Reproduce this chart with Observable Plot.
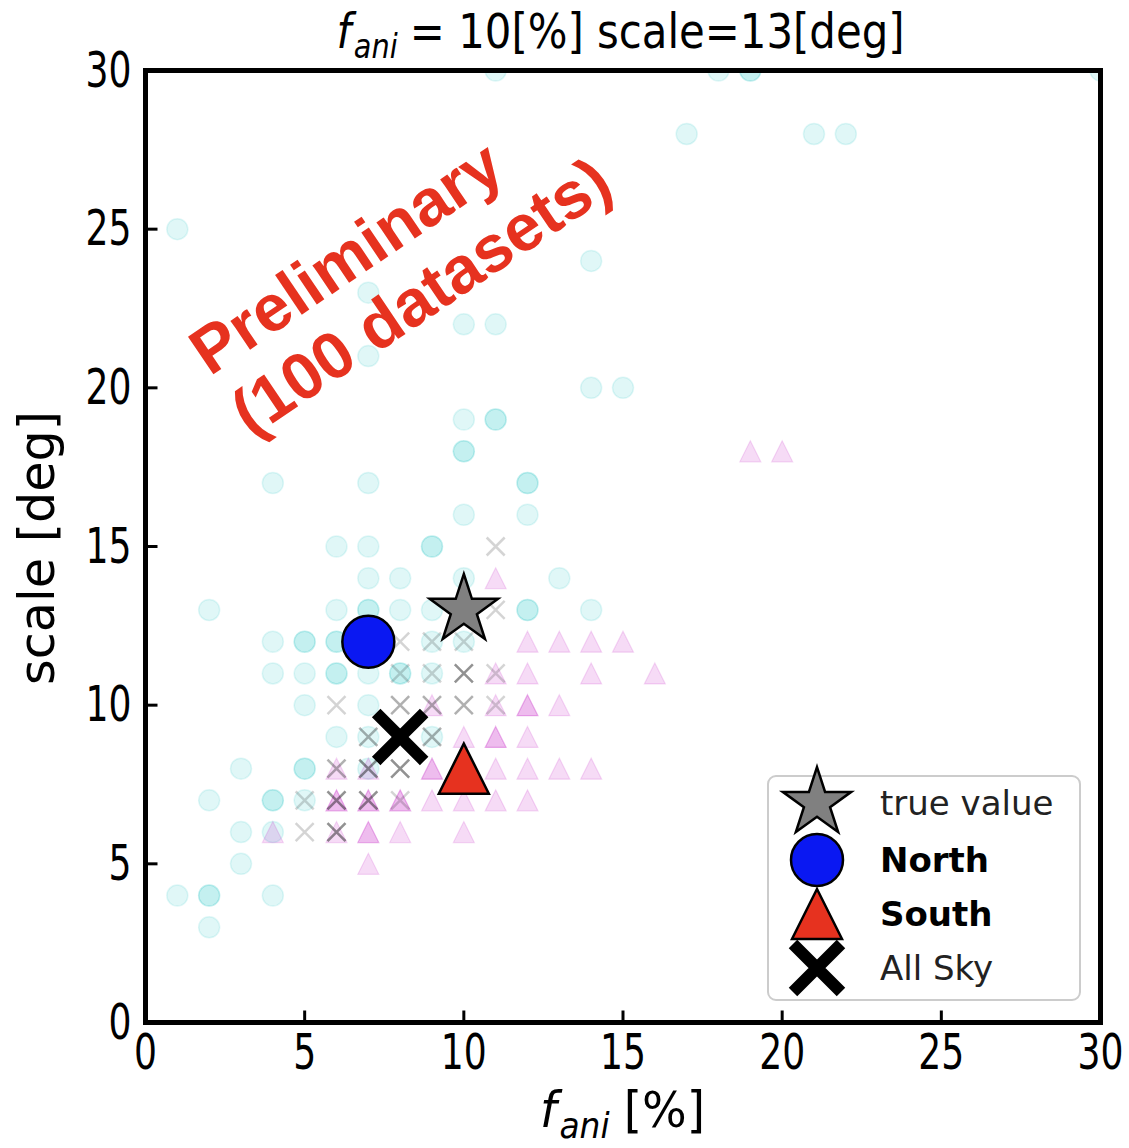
<!DOCTYPE html>
<html>
<head>
<meta charset="utf-8">
<script src="https://cdn.jsdelivr.net/npm/d3@7"></script>
<script src="https://cdn.jsdelivr.net/npm/@observablehq/plot@0.6"></script>
<style>
  html, body { margin: 0; padding: 0; background: #fff; }
  svg { display: block; }
</style>
</head>
<body>
<div id="chart"></div>
<script>
// ---------------- data ----------------
const xTickValues = [0, 5, 10, 15, 20, 25, 30];
const yTickValues = [0, 5, 10, 15, 20, 25, 30];

// best-fit (f_ani [%], scale [deg]) of each dataset, North sky (duplicates = overlapping fits)
const northPoints = [
  [11,30],[18,30],[19,30],[19,30],[30,30],
  [17,28],[21,28],[22,28],
  [1,25],[14,24],[7,23],[10,22],[11,22],[7,21],[14,20],[15,20],
  [10,19],[11,19],[11,19],[10,18],[10,18],
  [4,17],[7,17],[12,17],[12,17],[10,16],[12,16],
  [6,15],[7,15],[9,15],[9,15],
  [7,14],[8,14],[10,14],[13,14],
  [2,13],[6,13],[7,13],[7,13],[8,13],[9,13],[12,13],[12,13],[14,13],
  [4,12],[5,12],[5,12],[6,12],[6,12],[7,12],[9,12],[10,12],
  [4,11],[5,11],[6,11],[6,11],[7,11],[8,11],[8,11],[9,11],
  [5,10],[7,10],
  [6,9],[7,9],[9,9],
  [3,8],[5,8],[5,8],[7,8],
  [2,7],[4,7],[4,7],[5,7],
  [3,6],[4,6],[3,5],
  [1,4],[2,4],[2,4],[4,4],[2,3]
];
// South sky
const southPoints = [
  [19,18],[20,18],[11,14],
  [12,12],[13,12],[14,12],[15,12],
  [11,11],[12,11],[14,11],[16,11],
  [9,10],[11,10],[12,10],[12,10],[13,10],
  [10,9],[11,9],[11,9],[12,9],
  [6,8],[7,8],[9,8],[9,8],[10,8],[11,8],[12,8],[13,8],[14,8],
  [6,7],[6,7],[7,7],[7,7],[8,7],[8,7],[9,7],[10,7],[11,7],[12,7],
  [4,6],[6,6],[7,6],[7,6],[8,6],[10,6],
  [7,5]
];
// All sky
const allSkyPoints = [
  [11,15],[11,13],[10,13],
  [8,12],[9,12],[10,12],
  [8,11],[9,11],[10,11],[10,11],[10,11],[11,11],
  [6,10],[8,10],[8,10],[9,10],[9,10],[10,10],[10,10],[11,10],
  [7,9],[7,9],[9,9],[9,9],[8,9],
  [6,8],[6,8],[7,8],[7,8],[7,8],[8,8],[8,8],[8,8],
  [5,7],[6,7],[6,7],[6,7],[7,7],[7,7],[7,7],[8,7],
  [5,6],[6,6],[6,6],[6,6]
];

const trueValue = [[10, 13]];
const northMean = [[7, 12]];
const southMean = [[10, 8]];
const allSkyMean = [[8, 9]];

const legendLabels = ["true value", "North", "South", "All Sky"];
const annotationText = ["Preliminary\n(100 datasets)"];
const annotationAnchor = [[2.25, 20.0]];
const titleMain = "= 10[%] scale=13[deg]";
const xLabelRest = "[%]";
const yLabelText = "scale [deg]";

// ---------------- layout ----------------
const W = 1129, H = 1148;
const mL = 145, mR = 29, mT = 70, mB = 126;
const FONT = "'DejaVu Sans', sans-serif";

// custom symbols (matplotlib-like)
const triUp = { draw(c, s) { const r = Math.sqrt(s / Math.PI); c.moveTo(0, -r); c.lineTo(r, r); c.lineTo(-r, r); c.closePath(); } };
const xMark = { draw(c, s) { const r = Math.sqrt(s / Math.PI); c.moveTo(-r, -r); c.lineTo(r, r); c.moveTo(-r, r); c.lineTo(r, -r); } };
const tickUp = { draw(c, s) { const r = Math.sqrt(s / Math.PI); c.moveTo(0, 0); c.lineTo(0, -r); } };
const tickRight = { draw(c, s) { const r = Math.sqrt(s / Math.PI); c.moveTo(0, 0); c.lineTo(r, 0); } };

const px = d => d[0], py = d => d[1];

const plot = Plot.plot({
  width: W, height: H,
  marginLeft: mL, marginRight: mR, marginTop: mT, marginBottom: mB,
  x: { domain: [0, 30] },
  y: { domain: [0, 30] },
  style: { fontFamily: FONT, background: "#fff", color: "#000" },
  marks: [
    Plot.dot(northPoints, { x: px, y: py, r: 10.5, fill: "#00bfbf", stroke: "#00bfbf",
      fillOpacity: 0.12, strokeOpacity: 0.12, strokeWidth: 1.5, clip: true }),
    Plot.dot(southPoints, { x: px, y: py, symbol: triUp, r: 10.5, fill: "#bf00bf", stroke: "#bf00bf",
      fillOpacity: 0.14, strokeOpacity: 0.14, strokeWidth: 1.2, clip: true }),
    Plot.dot(allSkyPoints, { x: px, y: py, symbol: xMark, r: 9, fill: "none", stroke: "#000",
      strokeOpacity: 0.17, strokeWidth: 2.5, clip: true }),
    Plot.dot(trueValue, { x: px, y: py, symbol: "star", r: 21.5, fill: "#808080", stroke: "#000", strokeWidth: 2.5 }),
    Plot.dot(northMean, { x: px, y: py, r: 26, fill: "#0a18f2", stroke: "#000", strokeWidth: 2.5 }),
    Plot.dot(southMean, { x: px, y: py, symbol: triUp, r: 25, fill: "#e6321f", stroke: "#000", strokeWidth: 2.5 }),
    Plot.dot(allSkyMean, { x: px, y: py, symbol: xMark, r: 24, fill: "none", stroke: "#000", strokeWidth: 12 }),
    Plot.text(annotationText, { x: () => annotationAnchor[0][0], y: () => annotationAnchor[0][1], text: d => d,
      rotate: -34, textAnchor: "start", lineHeight: 1.12, fontSize: 66, fontWeight: "bold",
      fontFamily: "'Liberation Sans', Arial, sans-serif", fill: "#e6321f" }),
    Plot.frame({ stroke: "#000", strokeWidth: 5 }),
    Plot.dot(xTickValues, { x: d => d, y: () => 0, symbol: tickUp, r: 12, stroke: "#000", strokeWidth: 3 }),
    Plot.dot(yTickValues, { x: () => 0, y: d => d, symbol: tickRight, r: 12, stroke: "#000", strokeWidth: 3 }),
    Plot.axisX({ ticks: xTickValues, tickSize: 0, tickPadding: 11, fontSize: 50, label: null, tickFormat: d => String(d) }),
    Plot.axisY({ ticks: yTickValues, tickSize: 0, tickPadding: 14, fontSize: 50, label: null, tickFormat: d => String(d) })
  ]
});

document.getElementById("chart").appendChild(plot);

const svg = d3.select(plot);

// narrower tick labels, as in the reference
svg.selectAll('g[aria-label="x-axis tick label"] text, g[aria-label="y-axis tick label"] text')
  .each(function () {
    const t = d3.select(this);
    const n = t.text().length;
    t.attr("textLength", 23 * n).attr("lengthAdjust", "spacingAndGlyphs");
  });

// ---------------- title, axis labels, legend ----------------
const cx = (mL + W - mR) / 2;

const title = svg.append("text").attr("x", cx - 2).attr("y", 48).attr("text-anchor", "middle")
  .attr("font-size", 48).attr("font-family", FONT).attr("fill", "#000")
  .attr("textLength", 568).attr("lengthAdjust", "spacingAndGlyphs");
title.append("tspan").attr("font-style", "italic").text("f");
title.append("tspan").attr("font-style", "italic").attr("font-size", 33).attr("dx", 3).attr("dy", 10).text("ani");
title.append("tspan").attr("dx", 14).attr("dy", -10).text(titleMain);

const xl = svg.append("text").attr("x", cx).attr("y", 1127).attr("text-anchor", "middle")
  .attr("font-size", 50).attr("font-family", FONT).attr("fill", "#000")
  .attr("textLength", 165).attr("lengthAdjust", "spacingAndGlyphs");
xl.append("tspan").attr("font-style", "italic").text("f");
xl.append("tspan").attr("font-style", "italic").attr("font-size", 35).attr("dx", 3).attr("dy", 11).text("ani");
xl.append("tspan").attr("dx", 15).attr("dy", -11).text(xLabelRest);

svg.append("text").attr("transform", `translate(54,548) rotate(-90)`)
  .attr("text-anchor", "middle").attr("font-size", 50).attr("font-family", FONT).attr("fill", "#000")
  .attr("textLength", 274).attr("lengthAdjust", "spacingAndGlyphs")
  .text(yLabelText);

const lg = svg.append("g");
lg.append("rect").attr("x", 768).attr("y", 776).attr("width", 312).attr("height", 224).attr("rx", 8)
  .attr("fill", "#fff").attr("fill-opacity", 0.8).attr("stroke", "#cccccc").attr("stroke-width", 2);
const legendRows = [
  { y: 803, sym: d3.symbolStar, r: 21.5, fill: "#808080", stroke: "#000", sw: 2.5, weight: "normal", color: "#222" },
  { y: 860, sym: d3.symbolCircle, r: 26, fill: "#0a18f2", stroke: "#000", sw: 2.5, weight: "bold", color: "#000" },
  { y: 914, sym: triUp, r: 25, fill: "#e6321f", stroke: "#000", sw: 2.5, weight: "bold", color: "#000" },
  { y: 968, sym: xMark, r: 24, fill: "none", stroke: "#000", sw: 12, weight: "normal", color: "#222" }
];
legendRows.forEach((row, i) => {
  lg.append("path").attr("transform", `translate(817,${row.y})`)
    .attr("d", d3.symbol().type(row.sym).size(Math.PI * row.r * row.r)())
    .attr("fill", row.fill).attr("stroke", row.stroke).attr("stroke-width", row.sw);
  lg.append("text").attr("x", 880).attr("y", row.y).attr("dy", "0.36em")
    .attr("text-anchor", "start")
    .attr("font-size", 34).attr("font-weight", row.weight).attr("font-family", FONT)
    .attr("fill", row.color).text(legendLabels[i]);
});
</script>
</body>
</html>
